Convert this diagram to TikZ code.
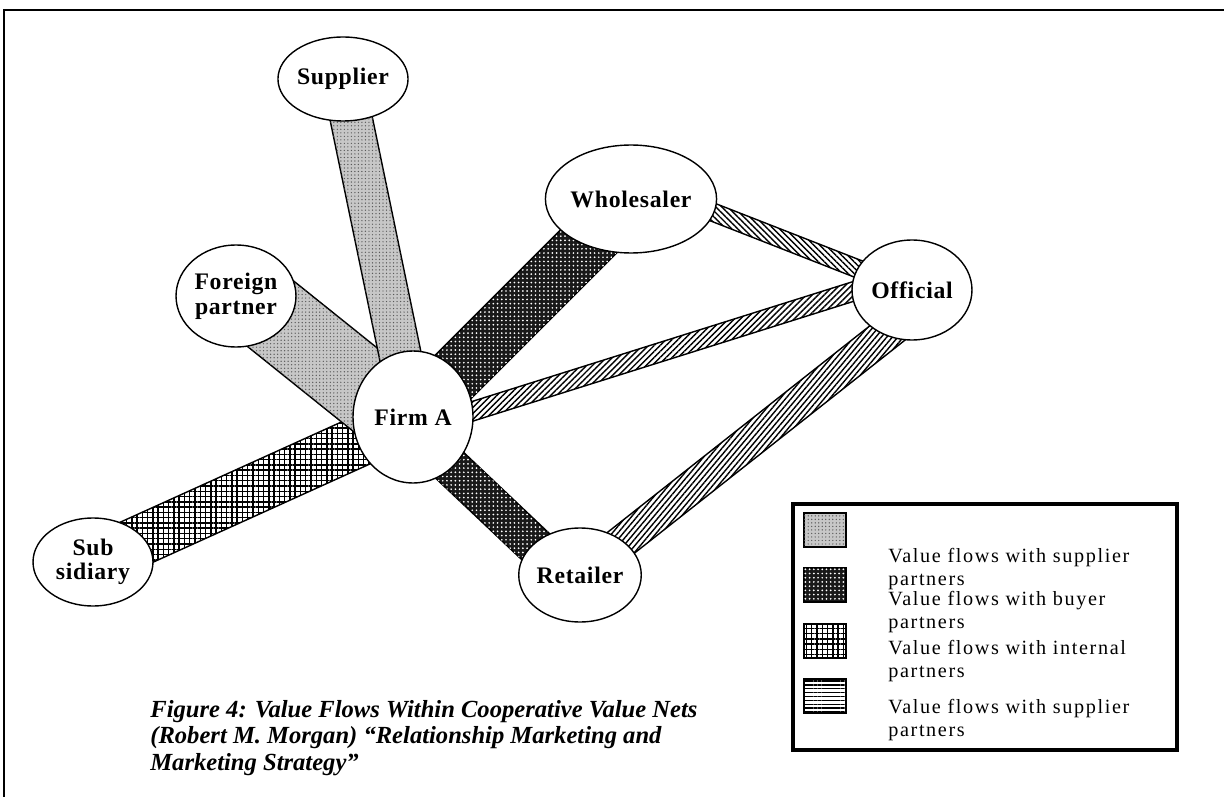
\documentclass[tikz,border=0pt]{standalone}
\usepackage{fontspec}
\setmainfont{Liberation Serif}
\usetikzlibrary{calc,shapes.geometric,patterns.meta}

\pgfdeclarelayer{bands}
\pgfsetlayers{bands,main}

% a flat band between two points, #4 = half its width
\newcommand{\flowband}[4]{%
  \path[#1] ($(#2)!#4!90:(#3)$) -- ($(#3)!#4!-90:(#2)$) -- ($(#3)!#4!90:(#2)$) -- ($(#2)!#4!-90:(#3)$) -- cycle;}

\begin{document}
\begin{tikzpicture}[x=0.02cm, y=-0.02cm,
  partner/.style={draw, ellipse, fill=white, line width=0.8pt, inner sep=0pt, align=center,
    font=\bfseries\fontsize{13.5}{14}\selectfont\addfontfeature{LetterSpace=3}},
  flow/.style={draw, line width=0.8pt},
  supplierfill/.style={fill=black!22, postaction={pattern={Dots[distance=2pt,radius=0.4pt]}, pattern color=black!65}},
  buyerfill/.style={fill=black!90, postaction={pattern={Dots[distance=2.4pt,radius=0.55pt]}, pattern color=white}},
  internalfill/.style={fill=white, postaction={pattern={Hatch[angle=0,distance=3pt,line width=0.85pt]}, pattern color=black}},
  officialfill/.style={fill=white, postaction={pattern={Lines[angle=#1,distance=2.4pt,line width=0.8pt]}, pattern color=black}},
  swatch/.style={draw, line width=0.8pt, minimum width=0.84cm, minimum height=0.68cm, inner sep=0pt},
  keytext/.style={anchor=west, align=left, inner sep=0pt,
    font=\fontsize{11.5}{13}\selectfont\addfontfeature{LetterSpace=8}}]
\useasboundingbox (0,0) rectangle (1224,797);

% page frame
\draw[line width=1.2pt] (4,797) -- (4,10) -- (1224,10);

% partners
\node (supplier) [partner, minimum width=2.48cm, minimum height=1.68cm] at (343,79) {Supplier};
\node (wholesaler) [partner, minimum width=2.44cm, minimum height=2.16cm] at (631,199) {Wholesaler};
\node (official) [partner, minimum width=2.4cm, minimum height=2cm] at (912,290) {Official};
\node (foreign) [partner, minimum width=2.4cm, minimum height=2.04cm] at (236,296) {Foreign\\partner};
\node (firm) [partner, minimum width=2.4cm, minimum height=2.64cm] at (413,417) {Firm A};
\node (subsidiary) [partner, minimum width=2.4cm, minimum height=1.76cm] at (93,562) {Sub\\sidiary};
\node (retailer) [partner, minimum width=2.44cm, minimum height=1.88cm] at (580,575) {Retailer};

% band ends that sit off the centres
\coordinate (fo-a) at ($(foreign.center)+(0,-10)$);
\coordinate (fo-b) at ($(firm.center)+(0,11)$);
\coordinate (re-a) at ($(firm.center)+(-7,7)$);
\coordinate (re-b) at ($(retailer.center)+(-7,7)$);
\coordinate (of-a) at ($(firm.center)+(0,13)$);
\coordinate (of-b) at ($(official.center)+(0,-17)$);
\coordinate (wo-a) at ($(wholesaler.center)+(20,-11)$);
\coordinate (ro-b) at ($(official.center)+(30,0)$);

% value flows, behind the partners
\begin{pgfonlayer}{bands}
\flowband{flow, internalfill}{subsidiary.center}{firm.center}{0.5cm}
\flowband{flow, supplierfill}{fo-a}{fo-b}{0.8cm}
\flowband{flow, supplierfill}{supplier.center}{firm.center}{0.42cm}
\flowband{flow, buyerfill}{wholesaler.center}{firm.center}{0.56cm}
\flowband{flow, buyerfill}{re-a}{re-b}{0.38cm}
\flowband{flow, officialfill=45}{of-a}{of-b}{0.19cm}
\flowband{flow, officialfill=-45}{wo-a}{official.center}{0.18cm}
\flowband{flow, officialfill=50}{retailer.center}{ro-b}{0.33cm}
\end{pgfonlayer}

% legend
\draw[line width=2.2pt] (793,504) rectangle (1177,750);
\node (keysupplier) [swatch, supplierfill] at (825,530) {};
\node (keybuyer) [swatch, buyerfill] at (825,585) {};
\node (keyinternal) [swatch, internalfill] at (825,641) {};
\node (keyother) [swatch, fill=white, postaction={pattern={Lines[angle=0,distance=2.2pt,line width=0.8pt]}, pattern color=black}] at (825,696) {};
\node (txtsupplier) [keytext] at (888,569) {Value flows with supplier\\partners};
\node (txtbuyer) [keytext] at (888,612) {Value flows with buyer\\partners};
\node (txtinternal) [keytext] at (888,661) {Value flows with internal\\partners};
\node (txtother) [keytext] at (888,720) {Value flows with supplier\\partners};

% caption
\node (caption) [anchor=north west, align=left, inner sep=0pt,
  font=\bfseries\itshape\fontsize{14}{15}\selectfont] at (150,700)
  {Figure 4: Value Flows Within Cooperative Value Nets\\(Robert M. Morgan) “Relationship Marketing and\\Marketing Strategy”};
\end{tikzpicture}
\end{document}
